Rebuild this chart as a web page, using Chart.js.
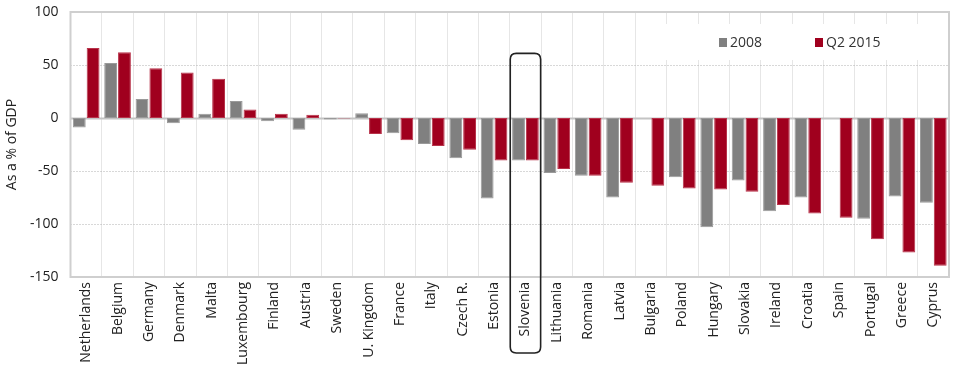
<!DOCTYPE html>
<html>
<head>
<meta charset="utf-8">
<script src="https://cdn.jsdelivr.net/npm/chart.js@4"></script>
<style>
html,body{margin:0;padding:0;background:#fff;}
#wrap{position:relative;width:960px;height:371px;}
</style>
</head>
<body>
<div id="wrap"><canvas id="c" width="960" height="371"></canvas></div>
<script>
const categories = ["Netherlands","Belgium","Germany","Denmark","Malta","Luxembourg","Finland","Austria","Sweden","U. Kingdom","France","Italy","Czech R.","Estonia","Slovenia","Lithuania","Romania","Latvia","Bulgaria","Poland","Hungary","Slovakia","Ireland","Croatia","Spain","Portugal","Greece","Cyprus"];
const values2008 = [-9,52,18,-5,4,16,-3,-11,-1.5,4.5,-14.5,-24.5,-38,-76,-40,-52,-54.5,-75,null,-56,-103,-59,-88,-75,null,-95,-74,-80];
const valuesQ2015 = [66,62,47,43,37,8,4,3,-0.5,-15,-21,-26.5,-30,-40,-40,-48,-54.5,-61,-64,-66.5,-67.5,-69.5,-82,-90,-94,-114.5,-127,-139.5];
const yTicks = [100,50,0,-50,-100,-150];
const seriesNames = ["2008","Q2 2015"];
const highlighted = "Slovenia";

const GREY = "#808080", RED = "#A0001E";
const FONT = "'Open Sans', 'DejaVu Sans', sans-serif";

const gridPlugin = {
  id: 'customGrid',
  beforeDatasetsDraw(chart) {
    const {ctx, chartArea: a, scales: {y}} = chart;
    ctx.save();
    yTicks.forEach(v => {
      const py = Math.round(y.getPixelForValue(v)) + 0.5;
      if (v === 0) {
        ctx.strokeStyle = '#c4c4c4'; ctx.lineWidth = 2; ctx.setLineDash([]);
      } else if (v === 100 || v === -150) {
        return;
      } else {
        ctx.strokeStyle = '#b0b0b0'; ctx.lineWidth = 1; ctx.setLineDash([1, 2]);
      }
      ctx.beginPath(); ctx.moveTo(a.left, py); ctx.lineTo(a.right, py); ctx.stroke();
    });
    ctx.setLineDash([]);
    ctx.strokeStyle = '#cfcfcf'; ctx.lineWidth = 2;
    ctx.strokeRect(a.left, a.top, a.right - a.left, a.bottom - a.top);
    ctx.fillStyle = '#fff';
    ctx.fillRect(652, a.top + 12, a.right - 654, 36);
    ctx.restore();
  },
  afterDraw(chart) {
    const {ctx, chartArea: a, scales: {x, y}} = chart;
    ctx.save();
    ctx.font = "14px " + FONT;
    ctx.textBaseline = 'middle';
    const ly = 42;
    const items = [{c: GREY, t: seriesNames[0], x: 719}, {c: RED, t: seriesNames[1], x: 815}];
    items.forEach(it => {
      ctx.fillStyle = it.c;
      ctx.fillRect(it.x, ly - 4, 8, 9);
      ctx.fillStyle = '#333';
      ctx.textAlign = 'left';
      ctx.fillText(it.t, it.x + 11, ly + 1);
    });
    const i = categories.indexOf(highlighted);
    const cx = x.getPixelForValue(i);
    const half = (x.getPixelForValue(1) - x.getPixelForValue(0)) / 2;
    const left = cx - half + 0.5, right = cx + half - 0.5;
    const top = y.getPixelForValue(61), bottom = a.bottom + 76;
    const r = 6;
    ctx.strokeStyle = '#222'; ctx.lineWidth = 1.6;
    ctx.beginPath();
    ctx.moveTo(left + r, top);
    ctx.lineTo(right - r, top);
    ctx.quadraticCurveTo(right, top, right, top + r);
    ctx.lineTo(right, bottom - r);
    ctx.quadraticCurveTo(right, bottom, right - r, bottom);
    ctx.lineTo(left + r, bottom);
    ctx.quadraticCurveTo(left, bottom, left, bottom - r);
    ctx.lineTo(left, top + r);
    ctx.quadraticCurveTo(left, top, left + r, top);
    ctx.stroke();
    ctx.restore();
  }
};

new Chart(document.getElementById('c'), {
  type: 'bar',
  data: {
    labels: categories,
    datasets: [
      {label: seriesNames[0], data: values2008, backgroundColor: GREY, borderColor: '#9a9a9a', borderWidth: 1, borderSkipped: false},
      {label: seriesNames[1], data: valuesQ2015, backgroundColor: RED, borderColor: '#b8334a', borderWidth: 1, borderSkipped: false}
    ]
  },
  options: {
    responsive: false,
    animation: false,
    devicePixelRatio: 1,
    layout: {padding: {left: 0, right: 11, top: 12, bottom: 0}},
    plugins: {legend: {display: false}, tooltip: {enabled: false}},
    datasets: {bar: {categoryPercentage: 0.88, barPercentage: 0.93}},
    scales: {
      x: {
        grid: {display: true, offset: true, color: '#e6e6e6', lineWidth: 1, drawTicks: false},
        border: {display: false},
        ticks: {
          color: '#222', font: {family: FONT, size: 14},
          maxRotation: 90, minRotation: 90, autoSkip: false, padding: 5
        },
        afterFit(s) { s.height = 94; s.paddingLeft = 0; s.paddingRight = 0; }
      },
      y: {
        min: -150, max: 100,
        afterBuildTicks(s) { s.ticks = yTicks.map(v => ({value: v})); },
        grid: {display: false, drawTicks: false},
        border: {display: false},
        ticks: {color: '#222', font: {family: FONT, size: 14}, padding: 12},
        title: {display: true, text: 'As a % of GDP', color: '#222', font: {family: FONT, size: 14}, padding: {top: 4, bottom: 0}},
        afterFit(s) { s.width = 70.5; s.paddingTop = 0; s.paddingBottom = 0; }
      }
    }
  },
  plugins: [gridPlugin]
});
</script>
</body>
</html>
